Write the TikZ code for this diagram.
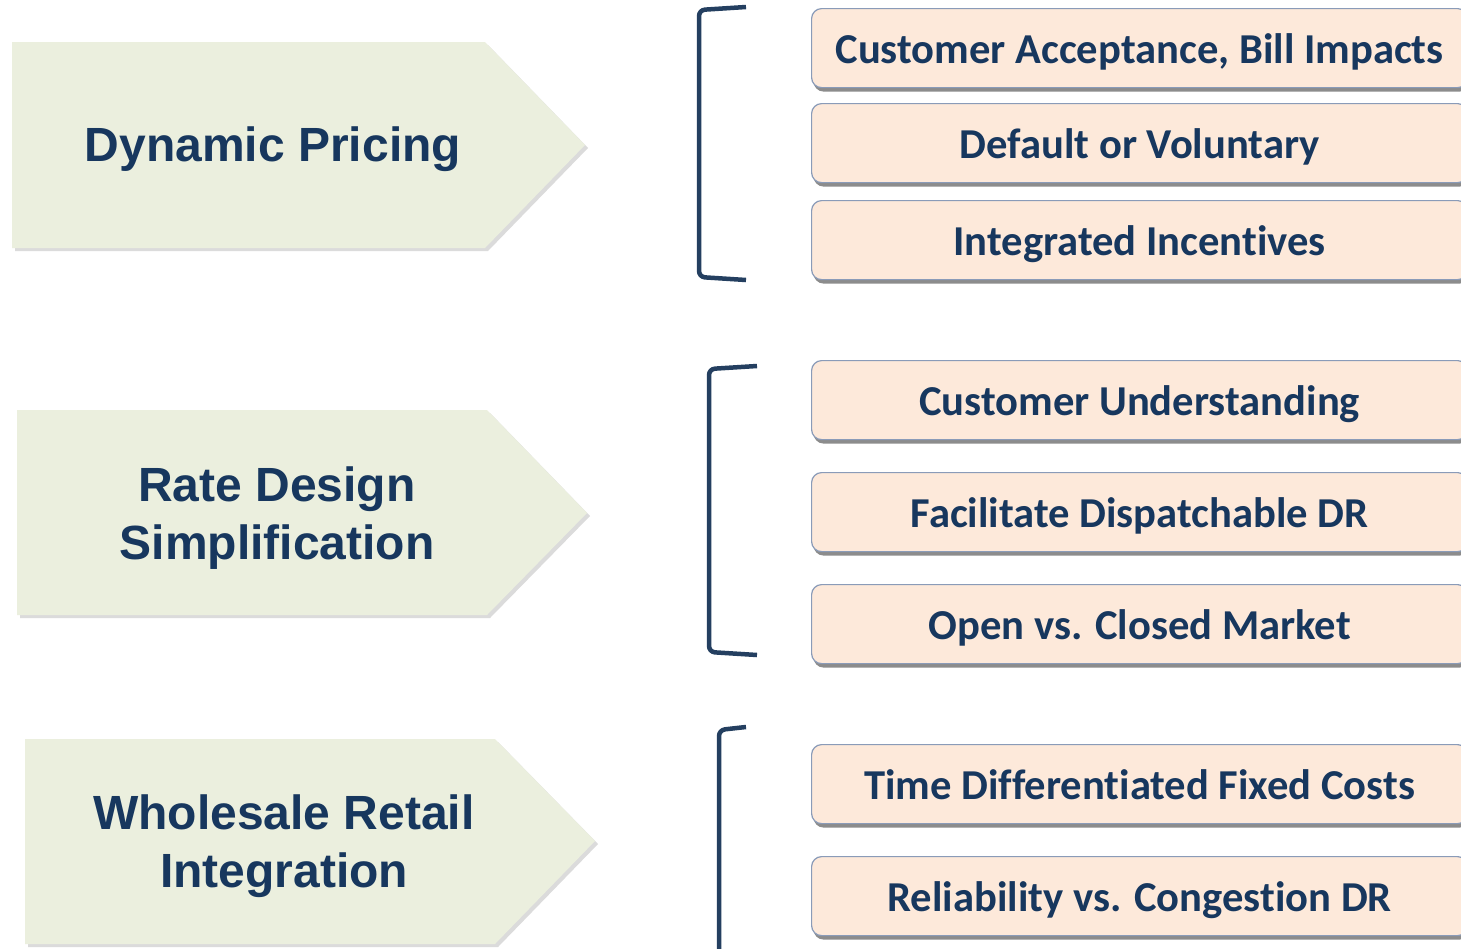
\documentclass[tikz,border=0pt]{standalone}
\usepackage{fontspec}
\setmainfont[Ligatures=NoCommon]{Carlito}
\newfontfamily\arialfont{Liberation Sans}
\usetikzlibrary{shadows}
\definecolor{navy}{HTML}{17375E}
\definecolor{brace}{HTML}{243F60}
\definecolor{sage}{HTML}{EBEFDE}
\definecolor{peach}{HTML}{FDE9DA}
\definecolor{edge}{HTML}{8A9BB8}
\tikzset{
  topic/.style={text=navy, align=center, font=\arialfont\bfseries\fontsize{48}{58}\selectfont},
  item/.style={draw=edge, line width=1.2pt, fill=peach, rounded corners=10pt,
    anchor=north west, minimum width=656pt, minimum height=79pt, text=navy,
    text height=31pt, text depth=0pt,
    font=\bfseries\fontsize{42.6}{50}\selectfont,
    drop shadow={shadow xshift=2pt, shadow yshift=-4pt, fill=black!45, opacity=1}},
  bracket/.style={draw=brace, line width=4.5pt, rounded corners=6pt}
}
\begin{document}
\begin{tikzpicture}[x=1pt,y=-1pt]
\clip (0,0) rectangle (1461,948);
\fill[white] (0,0) rectangle (1461,948);
% chevrons on the left
\fill[black!14] (15,45) -- (488,45) -- (588,148) -- (488,251) -- (15,251) -- cycle;
\fill[sage] (12,42) -- (485,42) -- (585,145) -- (485,248) -- (12,248) -- cycle;
\fill[black!14] (20,413) -- (490,413) -- (590,516) -- (490,618) -- (20,618) -- cycle;
\fill[sage] (17,410) -- (487,410) -- (587,513) -- (487,615) -- (17,615) -- cycle;
\fill[black!14] (28,742) -- (498,742) -- (598,844) -- (498,947) -- (28,947) -- cycle;
\fill[sage] (25,739) -- (495,739) -- (595,841) -- (495,944) -- (25,944) -- cycle;
\node[topic] (pricing) at (273,149) {Dynamic Pricing};
\node[topic] (design) at (277,518) {Rate Design\\Simplification};
\node[topic] (wholesale) at (284,846) {Wholesale Retail\\Integration};
% brackets
\draw[bracket] (746,7) -- (699,10) -- (699,277) -- (746,280);
\draw[bracket] (757,366) -- (709,369) -- (709,652) -- (757,655);
\draw[bracket] (746,727) -- (719,730) -- (719,970);
% issue boxes
\node[item] (accept) at (811,8) {Customer Acceptance, Bill Impacts};
\node[item] (default) at (811,103) {Default or Voluntary};
\node[item] (incent) at (811,200) {Integrated Incentives};
\node[item] (underst) at (811,360) {Customer Understanding};
\node[item] (dispatch) at (811,472) {Facilitate Dispatchable DR};
\node[item] (market) at (811,584) {Open vs. Closed Market};
\node[item] (fixed) at (811,744) {Time Differentiated Fixed Costs};
\node[item] (reliab) at (811,856) {Reliability vs. Congestion DR};
\end{tikzpicture}
\end{document}
